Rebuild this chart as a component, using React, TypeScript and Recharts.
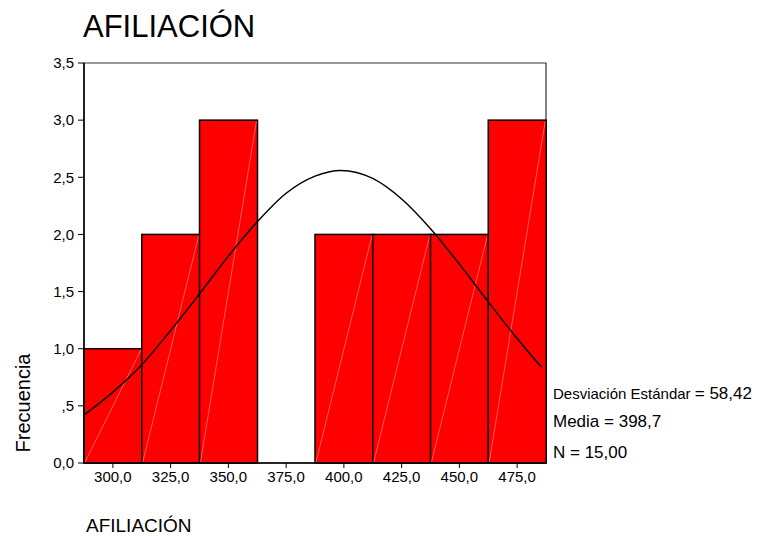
import React from 'react';
import {
  ComposedChart,
  Bar,
  Line,
  XAxis,
  YAxis,
  ReferenceArea,
} from 'recharts';

// bin centres and frequencies
const bins = [300, 325, 350, 375, 400, 425, 450, 475];
const counts = [1, 2, 3, 0, 2, 2, 2, 3];

// fitted normal curve
const curveX = [287.5, 300, 312.5, 325, 337.5, 350, 362.5, 375, 387.5, 398.7, 412.5, 425, 437.5, 450, 462.5, 475, 485.5];
const curveY = [0.42, 0.62, 0.86, 1.16, 1.48, 1.81, 2.11, 2.36, 2.51, 2.56, 2.49, 2.31, 2.05, 1.74, 1.41, 1.09, 0.84];

const yTicks = [0, 0.5, 1, 1.5, 2, 2.5, 3, 3.5];

const barData = bins.map((b, i) => ({ bin: b, count: counts[i] }));
const curveData = curveX.map((x, i) => ({ x, y: curveY[i] }));

const FONT = 'Arial, "Liberation Sans", sans-serif';

const fmtY = (v: number) => (v === 0.5 ? ',5' : v.toFixed(1).replace('.', ','));
const fmtX = (v: number) => v.toFixed(1).replace('.', ',');

const HistBar = (props: any) => {
  const { x, y, width, height } = props;
  if (!height || height <= 0) return null;
  return (
    <g>
      <rect x={x} y={y} width={width} height={height} fill="#ff0000" stroke="#000" strokeWidth={1.5} />
      <line
        x1={x + 1}
        y1={y + height - 1}
        x2={x + width - 1}
        y2={y + 1}
        stroke="#ffffff"
        strokeOpacity={0.45}
        strokeWidth={0.8}
      />
    </g>
  );
};

export default function App() {
  return (
    <div style={{ position: 'absolute', left: 0, top: 0, width: 780, height: 536, background: '#fff' }}>
      <ComposedChart
        width={780}
        height={536}
        data={barData}
        barCategoryGap={0}
        barGap={0}
        margin={{ top: 63, right: 234, bottom: 44, left: 0 }}
      >
        <XAxis
          dataKey="bin"
          type="category"
          tickFormatter={fmtX}
          axisLine={{ stroke: '#000', strokeWidth: 1.5 }}
          tickLine={{ stroke: '#000' }}
          tickSize={5}
          tickMargin={3}
          height={29}
          tick={{ fill: '#000', fontSize: 15, fontFamily: FONT }}
        />
        <XAxis xAxisId="num" dataKey="x" type="number" domain={[287.5, 487.5]} hide />
        <YAxis
          domain={[0, 3.5]}
          ticks={yTicks}
          tickFormatter={fmtY}
          width={84}
          axisLine={{ stroke: '#000', strokeWidth: 1.5 }}
          tickLine={{ stroke: '#000' }}
          tickSize={6}
          tickMargin={4}
          tick={{ fill: '#000', fontSize: 15, fontFamily: FONT }}
        />
        <ReferenceArea y1={0} y2={3.5} fill="none" stroke="#333" strokeWidth={1.2} ifOverflow="visible" />
        <Bar dataKey="count" shape={HistBar} isAnimationActive={false} />
        <Line
          xAxisId="num"
          data={curveData}
          dataKey="y"
          type="monotone"
          stroke="#000"
          strokeWidth={1.5}
          dot={false}
          activeDot={false}
          isAnimationActive={false}
        />
      </ComposedChart>
      <svg
        width={780}
        height={536}
        style={{ position: 'absolute', left: 0, top: 0, pointerEvents: 'none' }}
        fontFamily={FONT}
      >
        <text x={83} y={37} fontSize={31} fill="#000">AFILIACIÓN</text>
        <text x={30} y={403} fontSize={20} fill="#000" textAnchor="middle" transform="rotate(-90 30 403)">
          Frecuencia
        </text>
        <text x={86} y={532} fontSize={19} fill="#000">AFILIACIÓN</text>
        <text x={553} y={399} fill="#000">
          <tspan fontSize={15}>Desviación Estándar </tspan>
          <tspan fontSize={17}>= 58,42</tspan>
        </text>
        <text x={553} y={427} fontSize={17} fill="#000">Media = 398,7</text>
        <text x={553} y={458} fontSize={17} fill="#000">N = 15,00</text>
      </svg>
    </div>
  );
}
